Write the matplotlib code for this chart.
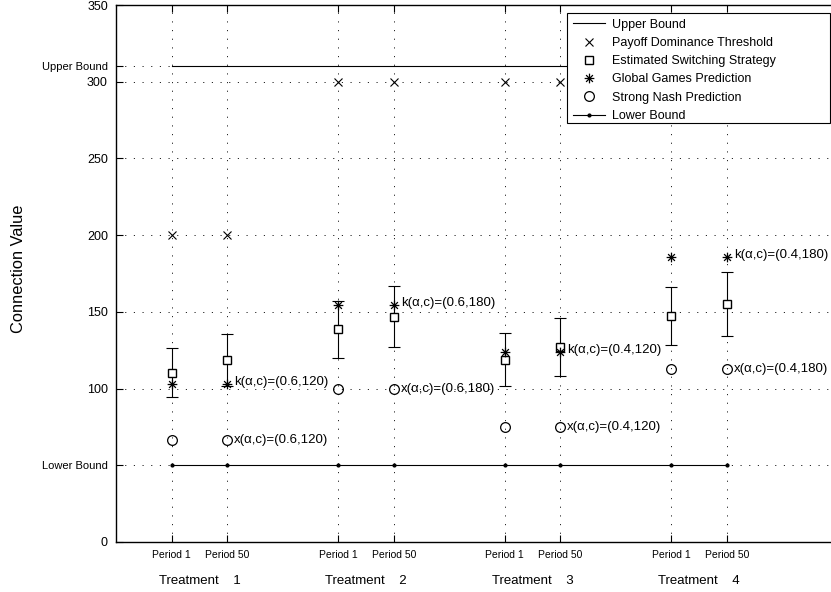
import matplotlib
matplotlib.use("Agg")
import matplotlib.pyplot as plt
from matplotlib.lines import Line2D
from matplotlib.path import Path
from matplotlib.patches import Rectangle

plt.rcParams['font.family'] = ['Liberation Sans', 'DejaVu Sans']

# ---------------- data ----------------
x_pos = [1, 2, 4, 5, 7, 8, 10, 11]
period_labels = ['Period 1', 'Period 50'] * 4
treatment_pos = [1.5, 4.5, 7.5, 10.5]
treatment_labels = ['Treatment    1', 'Treatment    2', 'Treatment    3', 'Treatment    4']

upper_bound = 310
lower_bound = 50
payoff_dominance = [200, 200, 300, 300, 300, 300, 300, 300]
switching = [110.4, 118.6, 138.6, 146.8, 118.9, 127.1, 147.3, 155.1]
switching_err = [16, 17, 18.5, 20, 17, 18.7, 19, 21]
global_games = [103, 103, 154.5, 154.5, 124, 124, 186, 186]
strong_nash = [66.7, 66.7, 100, 100, 75, 75, 112.5, 112.5]

ann_x = [2, 5, 8, 11]
ann_params = ['(0.6,120)', '(0.6,180)', '(0.4,120)', '(0.4,180)']
ann_k_y = [103, 154.5, 124, 186]
ann_s_y = [66.7, 100, 75, 112.5]

yticks = [0, 50, 100, 150, 200, 250, 300, 310, 350]
ytick_labels = ['0', 'Lower Bound', '100', '150', '200', '250', '300', 'Upper Bound', '350']

# ---------------- figure ----------------
fig = plt.figure(figsize=(8.31, 5.92), dpi=100)
W, H = 831, 592
left_px, right_px, top_px, bot_px = 116.2, 837.7, 5, 542
ax = fig.add_axes([left_px / W, 1 - bot_px / H, (right_px - left_px) / W, (bot_px - top_px) / H])

ax.set_xlim(0, 13)
ax.set_ylim(0, 350)

grid_ls = (0, (1.4, 9))
for y in yticks[1:-1]:
    ax.axhline(y, color='black', lw=0.6, ls=grid_ls, zorder=1)
for x in x_pos:
    ax.axvline(x, color='black', lw=0.6, ls=grid_ls, zorder=1)

# asterisk marker (MATLAB-style '*')
ast_verts = [(-1, 0), (1, 0), (0, -1), (0, 1), (-0.7, -0.7), (0.7, 0.7), (-0.7, 0.7), (0.7, -0.7)]
ast_codes = [Path.MOVETO, Path.LINETO] * 4
asterisk = Path(ast_verts, ast_codes)

ax.plot([x_pos[0], x_pos[-1]], [upper_bound, upper_bound], color='black', lw=0.8, zorder=2)
ax.plot(x_pos, [lower_bound] * len(x_pos), color='black', lw=0.8, marker='.', ms=4, zorder=2)

ax.plot(x_pos, payoff_dominance, ls='none', marker='x', ms=6, mew=0.8, color='black', zorder=3)
ax.errorbar(x_pos, switching, yerr=switching_err, fmt='none', ecolor='black', elinewidth=0.8,
            capsize=4.6, capthick=0.8, zorder=3)
ax.plot(x_pos, switching, ls='none', marker='s', ms=6, mew=1.0, mfc='white', mec='black', zorder=4)
ax.plot(x_pos, global_games, ls='none', marker=asterisk, ms=7, mew=0.9, color='black', zorder=4)
ax.plot(x_pos, strong_nash, ls='none', marker='o', ms=7, mew=0.9, mfc='none', mec='black', zorder=4)

for xa, p, ky, sy in zip(ann_x, ann_params, ann_k_y, ann_s_y):
    ax.annotate('k(α,c)=' + p, xy=(xa, ky), xytext=(5, 1.5), textcoords='offset points',
                ha='left', va='center', fontsize=9.5, zorder=5)
    ax.annotate('x(α,c)=' + p, xy=(xa, sy), xytext=(5, 0), textcoords='offset points',
                ha='left', va='center', fontsize=9.5, zorder=5)

ax.set_yticks(yticks)
ax.set_yticklabels(ytick_labels)
for lab, txt in zip(ax.get_yticklabels(), ytick_labels):
    lab.set_fontsize(8 if 'Bound' in txt else 9)
ax.set_xticks(x_pos)
ax.set_xticklabels(period_labels, fontsize=7.5)
ax.tick_params(direction='in', length=5, width=0.8, top=True, right=True, pad=6)
for s in ax.spines.values():
    s.set_linewidth(1.0)

for tx, tl in zip(treatment_pos, treatment_labels):
    ax.text(tx, -0.072, tl, transform=ax.get_xaxis_transform(), ha='center', va='center', fontsize=9.5)

fig.text(19 / W, 1 - 269 / H, 'Connection Value', rotation=90, ha='center', va='center', fontsize=11.8)

# legend box (wide MATLAB-style frame)
fig.patches.append(Rectangle((567 / W, 1 - 123 / H), (830 - 567) / W, 110 / H,
                             transform=fig.transFigure, facecolor='white', edgecolor='black',
                             linewidth=0.8, zorder=9))

handles = [
    Line2D([], [], color='black', lw=0.8),
    Line2D([], [], ls='none', marker='x', ms=6, mew=0.8, color='black'),
    Line2D([], [], ls='none', marker='s', ms=6, mfc='white', mec='black'),
    Line2D([], [], ls='none', marker=asterisk, ms=7, mew=0.9, color='black'),
    Line2D([], [], ls='none', marker='o', ms=7, mew=0.9, mfc='none', mec='black'),
    Line2D([], [], color='black', lw=0.8, marker='.', ms=4),
]
labels = ['Upper Bound', 'Payoff Dominance Threshold', 'Estimated Switching Strategy',
          'Global Games Prediction', 'Strong Nash Prediction', 'Lower Bound']
leg = fig.legend(handles, labels, loc='upper left', bbox_to_anchor=(567 / W, 1 - 13 / H),
                 bbox_transform=fig.transFigure, borderaxespad=0, fontsize=9, frameon=False,
                 handlelength=2.56, handletextpad=0.56, labelspacing=0.5, borderpad=0.45)
leg.set_zorder(10)

fig.savefig('out.png', dpi=100)
